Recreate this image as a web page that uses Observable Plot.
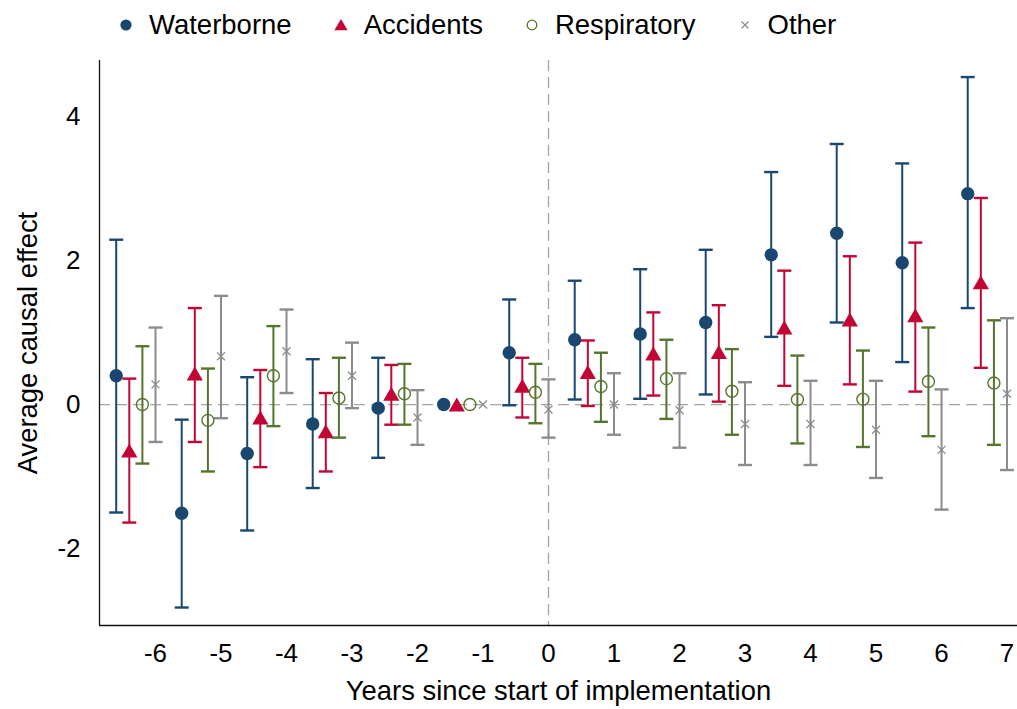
<!DOCTYPE html>
<html>
<head>
<meta charset="utf-8">
<script src="https://cdn.jsdelivr.net/npm/d3@7"></script>
<script src="https://cdn.jsdelivr.net/npm/@observablehq/plot@0.6"></script>
<style>
  body { margin: 0; background: #fff; font-family: "Liberation Sans", Arial, Helvetica, sans-serif; }
  #legend { height: 50px; display: flex; align-items: center; padding-left: 119px; font-size: 27.5px; color: #000; }
  .item { display: flex; align-items: center; margin-right: 42px; }
  .item svg { margin-right: 16px; }
</style>
</head>
<body>
<div id="legend"></div>
<div id="chart"></div>
<script>
// Event-study estimates by years since the start of implementation.
// Year -1 is the reference period (fixed at 0, no interval).
const years = [-6, -5, -4, -3, -2, -1, 0, 1, 2, 3, 4, 5, 6, 7];

const waterborne   = [0.40, -1.51, -0.68, -0.27, -0.05, 0, 0.72, 0.90, 0.98, 1.14, 2.08, 2.38, 1.97, 2.93];
const waterborneLo = [-1.50, -2.82, -1.75, -1.16, -0.74, null, -0.01, 0.07, 0.08, 0.14, 0.94, 1.14, 0.59, 1.34];
const waterborneHi = [2.29, -0.21, 0.38, 0.63, 0.65, null, 1.46, 1.72, 1.88, 2.15, 3.23, 3.62, 3.35, 4.55];

const accidents   = [-0.64, 0.43, -0.18, -0.37, 0.15, 0, 0.26, 0.45, 0.71, 0.73, 1.07, 1.18, 1.24, 1.70];
const accidentsLo = [-1.64, -0.52, -0.87, -0.93, -0.28, null, -0.18, -0.02, 0.125, 0.04, 0.26, 0.28, 0.18, 0.51];
const accidentsHi = [0.36, 1.34, 0.48, 0.16, 0.55, null, 0.65, 0.89, 1.28, 1.38, 1.86, 2.06, 2.25, 2.87];

const respiratory   = [0.00, -0.22, 0.40, 0.09, 0.15, 0, 0.17, 0.25, 0.36, 0.185, 0.07, 0.075, 0.32, 0.30];
const respiratoryLo = [-0.82, -0.93, -0.30, -0.46, -0.28, null, -0.26, -0.24, -0.20, -0.42, -0.54, -0.59, -0.44, -0.56];
const respiratoryHi = [0.81, 0.50, 1.09, 0.65, 0.565, null, 0.565, 0.72, 0.90, 0.77, 0.68, 0.75, 1.07, 1.17];

const other   = [0.28, 0.67, 0.74, 0.40, -0.18, 0, -0.07, 0.00, -0.08, -0.27, -0.27, -0.35, -0.63, 0.15];
const otherLo = [-0.52, -0.19, 0.16, -0.05, -0.56, null, -0.46, -0.42, -0.60, -0.84, -0.84, -1.02, -1.46, -0.91];
const otherHi = [1.07, 1.51, 1.32, 0.86, 0.20, null, 0.35, 0.435, 0.435, 0.31, 0.33, 0.33, 0.21, 1.20];

const seriesNames = ["Waterborne", "Accidents", "Respiratory", "Other"];
const xTicks = years;
const yTicks = [-2, 0, 2, 4];
const xTitle = "Years since start of implementation";
const yTitle = "Average causal effect";

// Scale extents and per-series display settings
const xDomain = [-6.855, 7.16];
const yDomain = [-3.07, 4.78];
const styles = {
  Waterborne:  {color: "#1a476f", shift: -0.6, symbol: "circle",   r: 6.7, filled: true,  dy: 0},
  Accidents:   {color: "#c10534", shift: -0.4, symbol: "triangle", r: 6.0, filled: true,  dy: 2.3},
  Respiratory: {color: "#55752f", shift: -0.2, symbol: "circle",   r: 6.0, filled: false, dy: 0, sw: 1.4},
  Other:       {color: "#8c8c8c", shift: 0.0,  symbol: "times",    r: 3.7, filled: false, dy: 0, sw: 1.3}
};
const values = {
  Waterborne: [waterborne, waterborneLo, waterborneHi],
  Accidents: [accidents, accidentsLo, accidentsHi],
  Respiratory: [respiratory, respiratoryLo, respiratoryHi],
  Other: [other, otherLo, otherHi]
};

// Horizontal cap drawn at each interval end
const cap = {
  draw(context, size) {
    const w = Math.sqrt(size / Math.PI);
    context.moveTo(-w, 0);
    context.lineTo(w, 0);
  }
};

const marks = [];
const dashed = {stroke: "#a3a3a3", strokeWidth: 1.3, strokeDasharray: "11,6"};
marks.push(Plot.ruleY([0], dashed));
marks.push(Plot.ruleX([0], dashed));

for (const name of seriesNames) {
  const s = styles[name];
  const [est, lo, hi] = values[name];
  const rows = years.map((t, i) => ({x: t + s.shift, est: est[i], lo: lo[i], hi: hi[i]}));
  const ci = rows.filter(d => d.lo != null && d.hi != null);
  marks.push(Plot.ruleX(ci, {x: "x", y1: "lo", y2: "hi", stroke: s.color, strokeWidth: 2}));
  marks.push(Plot.dot(ci, {x: "x", y: "lo", symbol: cap, r: 7, stroke: s.color, strokeWidth: 2.4, fill: "none"}));
  marks.push(Plot.dot(ci, {x: "x", y: "hi", symbol: cap, r: 7, stroke: s.color, strokeWidth: 2.4, fill: "none"}));
  marks.push(Plot.dot(rows, s.filled
    ? {x: "x", y: "est", symbol: s.symbol, r: s.r, fill: s.color, stroke: "none", dy: s.dy}
    : {x: "x", y: "est", symbol: s.symbol, r: s.r, fill: "none", stroke: s.color, strokeWidth: s.sw}));
}

// Axis lines on the left and bottom edges of the frame
marks.push(Plot.ruleX([xDomain[0]], {stroke: "#111", strokeWidth: 1.3}));
marks.push(Plot.ruleY([yDomain[0]], {stroke: "#111", strokeWidth: 1.3}));

marks.push(Plot.axisX({ticks: xTicks, tickSize: 0, tickPadding: 18, fontSize: 26, label: null, tickFormat: d => String(d)}));
marks.push(Plot.axisY({ticks: yTicks, tickSize: 0, tickPadding: 19, fontSize: 26, label: null, tickFormat: d => String(d)}));
marks.push(Plot.text([xTitle], {text: d => d, frameAnchor: "bottom", textAnchor: "middle", dy: 74, fontSize: 27.4, fill: "#000"}));
marks.push(Plot.text([yTitle], {text: d => d, frameAnchor: "left", textAnchor: "middle", rotate: -90, dx: -71, fontSize: 27.4, fill: "#000"}));

const chart = Plot.plot({
  width: 1017,
  height: 659,
  marginTop: 10,
  marginBottom: 84,
  marginLeft: 99,
  marginRight: 0,
  x: {domain: xDomain},
  y: {domain: yDomain},
  style: {fontFamily: "\"Liberation Sans\", Arial, Helvetica, sans-serif", color: "#000", background: "#fff", overflow: "visible"},
  marks
});
document.getElementById("chart").appendChild(chart);

// Legend above the plot
const legend = d3.select("#legend");
for (const name of seriesNames) {
  const s = styles[name];
  const item = legend.append("div").attr("class", "item");
  const svg = item.append("svg").attr("width", 14).attr("height", 14).attr("viewBox", "-7 -7 14 14");
  if (name === "Waterborne") {
    svg.append("circle").attr("r", 5.6).attr("fill", s.color);
  } else if (name === "Accidents") {
    svg.append("path").attr("d", "M0,-6 L6.6,5.2 L-6.6,5.2 Z").attr("fill", s.color);
  } else if (name === "Respiratory") {
    svg.append("circle").attr("r", 4.8).attr("fill", "none").attr("stroke", s.color).attr("stroke-width", 1.3);
  } else {
    svg.append("path").attr("d", "M-3.5,-3.5 L3.5,3.5 M-3.5,3.5 L3.5,-3.5").attr("stroke", s.color).attr("stroke-width", 1.2);
  }
  item.append("span").text(name);
}
</script>
</body>
</html>
